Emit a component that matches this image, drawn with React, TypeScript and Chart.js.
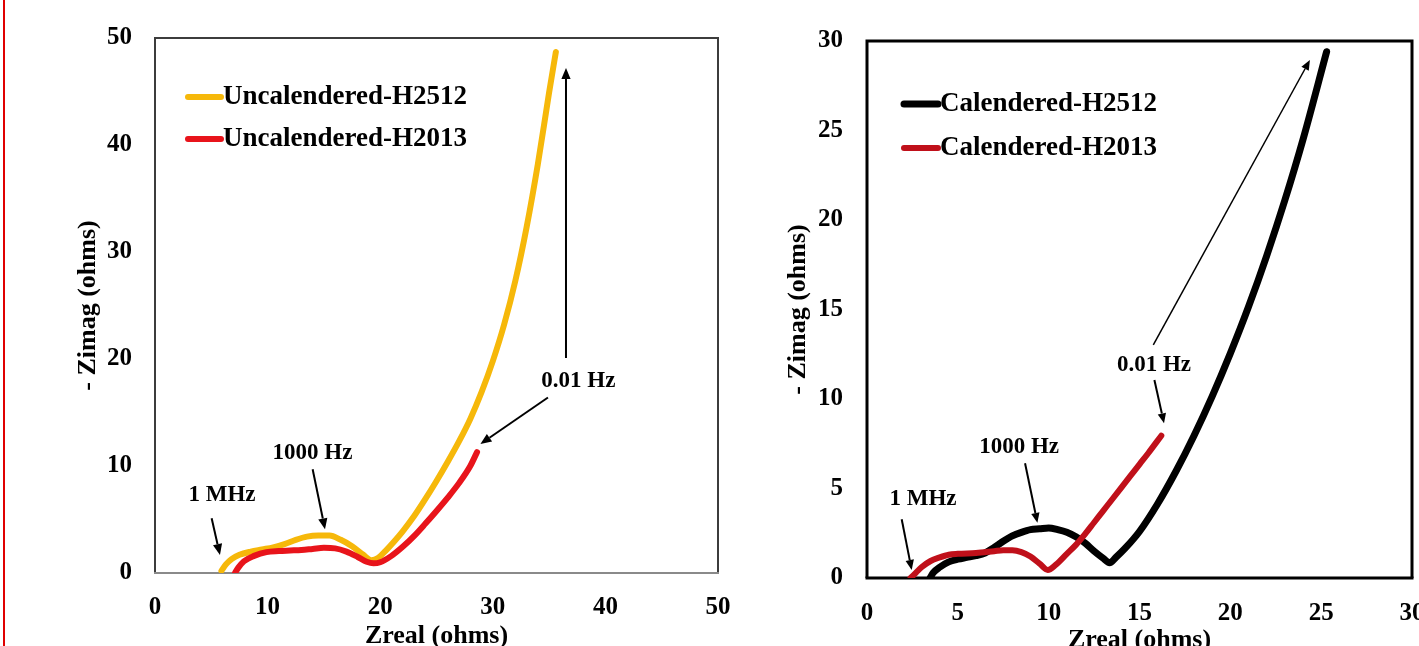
import React, { useEffect, useRef } from 'react';
import { Chart, registerables } from 'chart.js';

Chart.register(...registerables);

const FAMILY = '"Liberation Serif", "Times New Roman", Times, serif';

// ---------------- Left chart: uncalendered ----------------
const leftXMax = 50;
const leftXStep = 10;
const leftYMax = 50;
const leftYStep = 10;

const uncalH2512X = [5.9, 6.3, 6.8, 7.5, 8.5, 9.5, 10.5, 11.5, 12.5, 13.5, 14.5, 15.5, 16.5, 17.5, 18.5, 19.2, 19.8, 20.5, 21.2, 22, 23, 24, 25, 26, 27, 28, 29, 30, 31, 32, 33, 34, 35, 35.6];
const uncalH2512Y = [0.2, 0.8, 1.3, 1.7, 2.0, 2.2, 2.4, 2.7, 3.1, 3.4, 3.5, 3.5, 3.1, 2.5, 1.7, 1.2, 1.4, 2.1, 2.9, 3.9, 5.3, 6.9, 8.6, 10.4, 12.3, 14.4, 16.9, 19.8, 23.2, 27.3, 32.3, 38.2, 44.9, 48.7];

const uncalH2013X = [7.1, 7.4, 7.9, 8.8, 9.9, 11, 12, 13, 14, 15, 16, 17, 18, 18.8, 19.4, 20, 21, 22, 23, 24, 25, 26, 27, 28, 28.6];
const uncalH2013Y = [0.0, 0.5, 1.1, 1.6, 1.95, 2.05, 2.1, 2.15, 2.25, 2.35, 2.3, 2.0, 1.5, 1.05, 0.9, 1.0, 1.6, 2.45, 3.45, 4.6, 5.8, 7.05, 8.4, 10.0, 11.3];

const leftLabels = [
  { text: '1 MHz', x: 5.95, y: 7.29 },
  { text: '1000 Hz', x: 13.99, y: 11.21 },
  { text: '0.01 Hz', x: 37.6, y: 17.9 },
];
const leftArrows = [
  { x1: 5.03, y1: 5.11, x2: 5.77, y2: 1.68, w: 2, head: 11 },
  { x1: 14.0, y1: 9.69, x2: 15.1, y2: 4.08, w: 2, head: 11 },
  { x1: 34.9, y1: 16.4, x2: 28.9, y2: 12.06, w: 2, head: 11 },
  { x1: 36.5, y1: 20.1, x2: 36.5, y2: 47.2, w: 2, head: 11 },
];

// ---------------- Right chart: calendered ----------------
const rightXMax = 30;
const rightXStep = 5;
const rightYMax = 30;
const rightYStep = 5;

const calH2512X = [3.47, 3.65, 4.0, 4.5, 5.0, 5.5, 6.0, 6.5, 7.0, 7.5, 8.0, 8.5, 9.0, 9.5, 10.0, 10.5, 11.0, 11.5, 12.0, 12.5, 13.0, 13.35, 13.7, 14.2, 15, 16, 17, 18, 19, 20, 21, 22, 23, 24, 25.3];
const calH2512Y = [0, 0.3, 0.6, 0.9, 1.05, 1.15, 1.25, 1.4, 1.7, 2.05, 2.35, 2.55, 2.7, 2.75, 2.8, 2.7, 2.55, 2.3, 1.95, 1.5, 1.1, 0.85, 1.15, 1.65, 2.6, 4.15, 5.95, 7.95, 10.15, 12.55, 15.15, 18.0, 21.1, 24.5, 29.4];

const calH2013X = [2.4, 2.7, 3.0, 3.5, 4.0, 4.5, 5.0, 6.0, 7.0, 7.5, 8.0, 8.5, 9.0, 9.5, 9.95, 10.4, 11, 11.5, 12, 12.5, 13, 13.5, 14, 14.5, 15, 15.5, 16.2];
const calH2013Y = [0, 0.3, 0.6, 0.95, 1.15, 1.3, 1.35, 1.4, 1.5, 1.55, 1.55, 1.45, 1.2, 0.8, 0.45, 0.75, 1.35, 1.85, 2.45, 3.1, 3.75, 4.4, 5.05, 5.7, 6.35, 7.0, 7.95];

const rightLabels = [
  { text: '1 MHz', x: 3.08, y: 4.41 },
  { text: '1000 Hz', x: 8.37, y: 7.32 },
  { text: '0.01 Hz', x: 15.8, y: 11.9 },
];
const rightArrows = [
  { x1: 1.91, y1: 3.28, x2: 2.46, y2: 0.45, w: 2, head: 10 },
  { x1: 8.7, y1: 6.41, x2: 9.38, y2: 3.08, w: 2, head: 10 },
  { x1: 15.82, y1: 11.06, x2: 16.35, y2: 8.64, w: 2, head: 10 },
  { x1: 15.76, y1: 13.02, x2: 24.38, y2: 28.94, w: 1.5, head: 10 },
];

const xTitle = 'Zreal (ohms)';
const yTitle = '- Zimag (ohms)';

function zip(xs: number[], ys: number[]) {
  return xs.map((x, i) => ({ x, y: ys[i] }));
}

function drawArrow(ctx: CanvasRenderingContext2D, x1: number, y1: number, x2: number, y2: number, lw: number, head: number) {
  const ang = Math.atan2(y2 - y1, x2 - x1);
  const hw = head * 0.42;
  const bx = x2 - head * Math.cos(ang);
  const by = y2 - head * Math.sin(ang);
  ctx.lineWidth = lw;
  ctx.strokeStyle = '#000';
  ctx.fillStyle = '#000';
  ctx.beginPath();
  ctx.moveTo(x1, y1);
  ctx.lineTo(bx, by);
  ctx.stroke();
  ctx.beginPath();
  ctx.moveTo(x2, y2);
  ctx.lineTo(bx + hw * Math.sin(ang), by - hw * Math.cos(ang));
  ctx.lineTo(bx - hw * Math.sin(ang), by + hw * Math.cos(ang));
  ctx.closePath();
  ctx.fill();
}

interface Setup {
  canvasW: number;
  canvasH: number;
  area: { left: number; top: number; right: number; bottom: number };
  xMax: number; xStep: number; yMax: number; yStep: number;
  series: { label: string; xs: number[]; ys: number[]; color: string; width: number; order: number }[];
  labels: { text: string; x: number; y: number }[];
  arrows: { x1: number; y1: number; x2: number; y2: number; w: number; head: number }[];
  frame: { color: string; width: number; bottomColor: string };
  legend: { x1: number; x2: number; tx: number; ys: number[] };
  yTickPad: number; xTickPad: number; yTitlePad: number; xTitlePad: number;
}

function buildConfig(s: Setup): any {
  const tickFont = { family: FAMILY, size: 25, weight: 'bold' as const, lineHeight: 1 };
  const titleFont = { family: FAMILY, size: 26, weight: 'bold' as const, lineHeight: 1 };
  const overlay = {
    id: 'overlay',
    beforeDatasetsDraw(chart: any) {
      const { ctx, chartArea: a } = chart;
      ctx.save();
      ctx.lineWidth = s.frame.width;
      ctx.strokeStyle = s.frame.color;
      ctx.beginPath();
      ctx.moveTo(a.left, a.bottom);
      ctx.lineTo(a.left, a.top);
      ctx.lineTo(a.right, a.top);
      ctx.lineTo(a.right, a.bottom);
      ctx.stroke();
      ctx.strokeStyle = s.frame.bottomColor;
      ctx.beginPath();
      ctx.moveTo(a.left - s.frame.width / 2, a.bottom);
      ctx.lineTo(a.right + s.frame.width / 2, a.bottom);
      ctx.stroke();
      ctx.restore();
    },
    afterDatasetsDraw(chart: any) {
      const { ctx, chartArea: a, scales } = chart;
      const px = (v: number) => scales.x.getPixelForValue(v);
      const py = (v: number) => scales.y.getPixelForValue(v);
      ctx.save();
      for (const ar of s.arrows) drawArrow(ctx, px(ar.x1), py(ar.y1), px(ar.x2), py(ar.y2), ar.w, ar.head);
      ctx.font = `bold 23px ${FAMILY}`;
      ctx.textAlign = 'center';
      ctx.textBaseline = 'middle';
      ctx.fillStyle = '#000';
      for (const l of s.labels) ctx.fillText(l.text, px(l.x), py(l.y));
      // legend
      ctx.font = `bold 27px ${FAMILY}`;
      ctx.textAlign = 'left';
      s.series.forEach((ser, i) => {
        const y = a.top + s.legend.ys[i];
        ctx.strokeStyle = ser.color;
        ctx.lineWidth = ser.width;
        ctx.lineCap = 'round';
        ctx.beginPath();
        ctx.moveTo(a.left + s.legend.x1, y);
        ctx.lineTo(a.left + s.legend.x2, y);
        ctx.stroke();
        ctx.fillStyle = '#000';
        ctx.fillText(ser.label, a.left + s.legend.tx, y);
      });
      ctx.restore();
    },
  };
  return {
    type: 'scatter',
    data: {
      datasets: s.series.map((ser) => ({
        label: ser.label,
        data: zip(ser.xs, ser.ys),
        showLine: true,
        borderColor: ser.color,
        backgroundColor: ser.color,
        borderWidth: ser.width,
        borderCapStyle: 'round',
        borderJoinStyle: 'round',
        pointRadius: 0,
        pointHoverRadius: 0,
        cubicInterpolationMode: 'monotone',
        order: ser.order,
      })),
    },
    options: {
      animation: false,
      responsive: false,
      devicePixelRatio: 1,
      events: [],
      layout: { padding: { left: 0, top: s.area.top, right: s.canvasW - s.area.right, bottom: 0 } },
      plugins: { legend: { display: false }, tooltip: { enabled: false }, title: { display: false } },
      scales: {
        x: {
          type: 'linear',
          min: 0,
          max: s.xMax,
          grid: { display: false, drawTicks: false },
          border: { display: false },
          ticks: { stepSize: s.xStep, font: tickFont, color: '#000', padding: s.xTickPad, maxRotation: 0, autoSkip: false },
          title: { display: true, text: xTitle, font: titleFont, color: '#000', padding: { top: 0, bottom: s.xTitlePad } },
          afterFit: (sc: any) => {
            sc.height = s.canvasH - s.area.bottom;
            sc.paddingLeft = 0;
            sc.paddingRight = 0;
          },
        },
        y: {
          type: 'linear',
          min: 0,
          max: s.yMax,
          grid: { display: false, drawTicks: false },
          border: { display: false },
          ticks: { stepSize: s.yStep, font: tickFont, color: '#000', padding: s.yTickPad, autoSkip: false },
          title: { display: true, text: yTitle, font: titleFont, color: '#000', padding: { top: s.yTitlePad, bottom: 0 } },
          afterFit: (sc: any) => {
            sc.width = s.area.left;
            sc.paddingTop = 0;
            sc.paddingBottom = 0;
          },
        },
      },
    },
    plugins: [overlay],
  };
}

const leftSetup: Setup = {
  canvasW: 740,
  canvasH: 680,
  area: { left: 155, top: 38, right: 718, bottom: 573 },
  xMax: leftXMax, xStep: leftXStep, yMax: leftYMax, yStep: leftYStep,
  series: [
    { label: 'Uncalendered-H2512', xs: uncalH2512X, ys: uncalH2512Y, color: '#F6B80A', width: 6, order: 1 },
    { label: 'Uncalendered-H2013', xs: uncalH2013X, ys: uncalH2013Y, color: '#E8141B', width: 6, order: 0 },
  ],
  labels: leftLabels,
  arrows: leftArrows,
  frame: { color: '#3c3c3c', width: 2, bottomColor: '#8a8a8a' },
  legend: { x1: 33, x2: 66, tx: 68, ys: [59, 101] },
  yTickPad: 23, xTickPad: 22, yTitlePad: 75, xTitlePad: 31,
};

const rightSetup: Setup = {
  canvasW: 700,
  canvasH: 680,
  area: { left: 127, top: 41, right: 672, bottom: 578 },
  xMax: rightXMax, xStep: rightXStep, yMax: rightYMax, yStep: rightYStep,
  series: [
    { label: 'Calendered-H2512', xs: calH2512X, ys: calH2512Y, color: '#000000', width: 7, order: 1 },
    { label: 'Calendered-H2013', xs: calH2013X, ys: calH2013Y, color: '#C0101A', width: 6, order: 0 },
  ],
  labels: rightLabels,
  arrows: rightArrows,
  frame: { color: '#000000', width: 3, bottomColor: '#000000' },
  legend: { x1: 37, x2: 71, tx: 73, ys: [63, 107] },
  yTickPad: 24, xTickPad: 23, yTitlePad: 45, xTitlePad: 27,
};

function ChartCanvas({ setup, left }: { setup: Setup; left: number }) {
  const ref = useRef<HTMLCanvasElement>(null);
  useEffect(() => {
    const chart = new Chart(ref.current as HTMLCanvasElement, buildConfig(setup));
    return () => chart.destroy();
  }, [setup]);
  return (
    <canvas
      ref={ref}
      width={setup.canvasW}
      height={setup.canvasH}
      style={{ position: 'absolute', left, top: 0, width: setup.canvasW, height: setup.canvasH, display: 'block' }}
    />
  );
}

export default function App() {
  return (
    <div style={{ position: 'fixed', left: 0, top: 0, width: 1419, height: 646, overflow: 'hidden', background: '#fff' }}>
      <div style={{ position: 'absolute', left: 3, top: 0, width: 2, height: 646, background: '#e00000' }} />
      <ChartCanvas setup={leftSetup} left={0} />
      <ChartCanvas setup={rightSetup} left={740} />
    </div>
  );
}
